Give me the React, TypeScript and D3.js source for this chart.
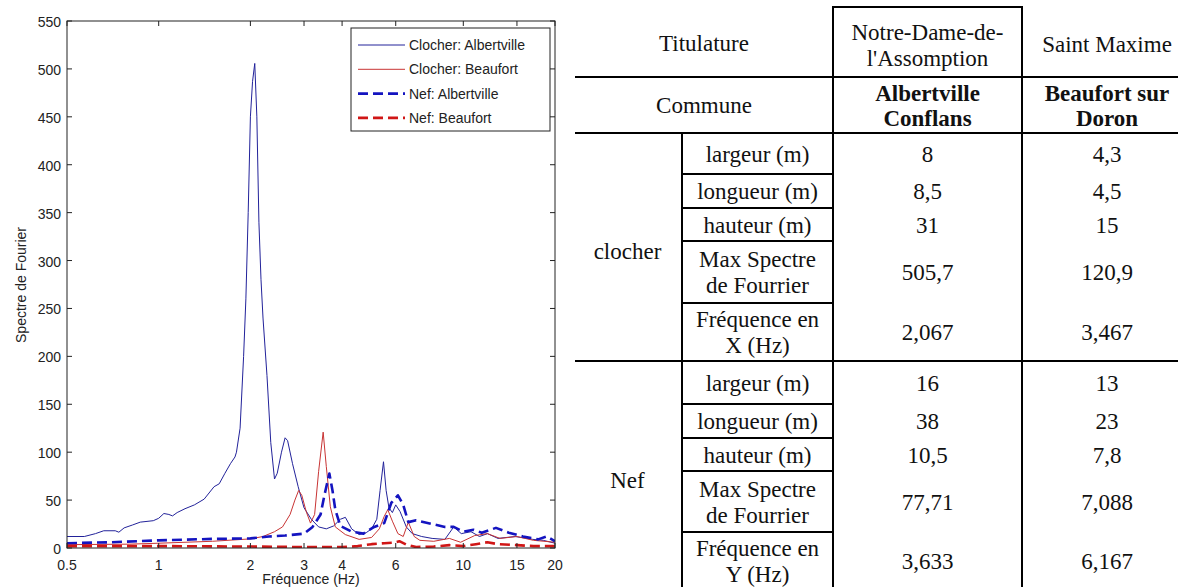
import React from "react";
import * as d3 from "d3";

// --- spectrum data (freq Hz, amplitude) ---
const clocherAlbertville: [number, number][] = [
  [0.5, 12], [0.57, 12], [0.62, 15], [0.66, 18], [0.72, 18], [0.74, 16.5], [0.77, 21],
  [0.82, 24], [0.87, 27], [0.96, 28.5], [1.0, 31], [1.04, 36], [1.08, 35], [1.11, 33.5],
  [1.15, 37], [1.22, 41], [1.31, 45], [1.41, 51], [1.52, 64], [1.58, 67], [1.65, 78],
  [1.72, 88], [1.78, 95], [1.8, 100], [1.85, 125], [1.9, 200], [1.933, 260], [1.967, 350],
  [2.0, 450], [2.033, 487], [2.067, 505.7], [2.1, 450], [2.133, 340], [2.167, 280],
  [2.2, 240], [2.267, 180], [2.333, 110], [2.4, 72], [2.45, 78], [2.53, 100], [2.6, 115],
  [2.65, 112], [2.75, 88], [2.87, 64], [3.0, 42], [3.17, 30], [3.35, 22], [3.55, 20],
  [3.75, 23], [3.95, 30], [4.1, 32], [4.3, 20], [4.55, 14], [4.8, 16], [5.0, 20],
  [5.2, 30], [5.33, 60], [5.47, 90], [5.58, 60], [5.7, 42], [5.85, 37], [6.0, 45],
  [6.2, 38], [6.5, 22], [6.8, 15], [7.3, 12], [7.9, 10], [8.7, 9], [9.3, 22], [9.85, 15],
  [10.6, 17], [11.3, 12], [12.0, 15], [13.0, 10], [14.8, 12], [16.9, 9], [18.3, 8], [20, 5],
];
const clocherBeaufort: [number, number][] = [
  [0.5, 3.5], [0.8, 4], [1.0, 5], [1.5, 7], [2.0, 9.5], [2.2, 12], [2.4, 17], [2.55, 22],
  [2.7, 35], [2.8, 50], [2.88, 60], [2.95, 55], [3.05, 38], [3.15, 26], [3.25, 35],
  [3.35, 80], [3.467, 120.9], [3.55, 85], [3.66, 43], [3.8, 22], [4.1, 14], [4.55, 9],
  [5.0, 11], [5.3, 20], [5.5, 33], [5.65, 40], [5.85, 28], [6.1, 15], [6.35, 12],
  [6.6, 27], [6.9, 12], [7.2, 8], [8.0, 7], [9.0, 10], [9.8, 6], [10.9, 13], [12.0, 15],
  [13.2, 10], [15, 12], [17, 8], [20, 6],
];
const nefAlbertville: [number, number][] = [
  [0.5, 5], [0.7, 6], [1.0, 8], [1.5, 9.5], [2.0, 10], [2.3, 12], [2.6, 13], [3.0, 15],
  [3.2, 22], [3.4, 35], [3.5, 55], [3.633, 77.7], [3.72, 60], [3.8, 40], [3.95, 23],
  [4.3, 17], [4.7, 15], [5.1, 22], [5.5, 26], [5.8, 47], [6.1, 55], [6.35, 45], [6.6, 27],
  [7.0, 29], [7.9, 25], [8.7, 22], [9.3, 22], [10.0, 17], [10.8, 19], [11.5, 16],
  [12.8, 21], [14.1, 16], [15.7, 12], [17.6, 9], [18.8, 12], [20, 7],
];
const nefBeaufort: [number, number][] = [
  [0.5, 2], [1, 2], [2, 1.5], [3, 1], [4, 1], [4.5, 2], [5.0, 4], [5.5, 5], [5.9, 5.5],
  [6.167, 7.1], [6.5, 3.5], [7.0, 1], [8.0, 1.5], [9.0, 3], [10.0, 2], [11.0, 4],
  [12.0, 6], [13.0, 4], [15, 3], [17, 2], [20, 2],
];
const seriesNames = ["Clocher: Albertville", "Clocher: Beaufort", "Nef: Albertville", "Nef: Beaufort"];
const xTicks = [0.5, 1, 2, 3, 4, 6, 10, 15, 20];
const yTicks = [0, 50, 100, 150, 200, 250, 300, 350, 400, 450, 500, 550];

// --- table data ---
const titulature = ["Notre-Dame-de-\nl'Assomption", "Saint Maxime"];
const communes = ["Albertville\nConflans", "Beaufort sur\nDoron"];
const groups = ["clocher", "Nef"];
const clocherLabels = ["largeur (m)", "longueur (m)", "hauteur (m)", "Max Spectre\nde Fourrier", "Fréquence en\nX (Hz)"];
const nefLabels = ["largeur (m)", "longueur (m)", "hauteur (m)", "Max Spectre\nde Fourrier", "Fréquence en\nY (Hz)"];
const clocherAlbertvilleVals = ["8", "8,5", "31", "505,7", "2,067"];
const clocherBeaufortVals = ["4,3", "4,5", "15", "120,9", "3,467"];
const nefAlbertvilleVals = ["16", "38", "10,5", "77,71", "3,633"];
const nefBeaufortVals = ["13", "23", "7,8", "7,088", "6,167"];

const sans = "'Liberation Sans', Arial, sans-serif";
const serif = "'Liberation Serif', 'Times New Roman', serif";

const styles = [
  { color: "#22229a", width: 1, dash: undefined },
  { color: "#c83434", width: 1, dash: undefined },
  { color: "#1414c0", width: 2.6, dash: "10,5" },
  { color: "#d01616", width: 2.6, dash: "10,5" },
];

const Lines = ({ text, x, y, lh, bold }: { text: string; x: number; y: number; lh: number; bold?: boolean }) => {
  const parts = text.split("\n");
  const y0 = y - ((parts.length - 1) * lh) / 2;
  return (
    <text x={x} textAnchor="middle" dominantBaseline="central" fontFamily={serif} fontSize={23}
      fontWeight={bold ? "bold" : "normal"} fill="#111">
      {parts.map((p, i) => (
        <tspan key={i} x={x} y={y0 + i * lh}>{p}</tspan>
      ))}
    </text>
  );
};

export default function App() {
  const x = d3.scaleLog().domain([0.5, 20]).range([67, 555]);
  const y = d3.scaleLinear().domain([0, 550]).range([548, 21]);
  const line = d3.line<[number, number]>().x(d => x(d[0])).y(d => y(d[1]));
  const series = [clocherAlbertville, clocherBeaufort, nefAlbertville, nefBeaufort];

  // table layout
  const tLeft = 575, tRight = 1178;
  const cGroup = 682, cA = 833, cB = 1022;
  const clocherRows = [133, 174, 208, 241, 303, 361];
  const nefRows = [361, 404, 438, 471, 532, 590];
  const colAx = (cA + cB) / 2, colBx = 1107, labX = (cGroup + cA) / 2;
  const lw = 2;

  const groupBlock = (rows: number[], labels: string[], va: string[], vb: string[], g: string) => (
    <g key={g}>
      <Lines text={g} x={(tLeft + cGroup) / 2 - 1} y={(rows[0] + rows[5]) / 2 + 4} lh={26} />
      {rows.slice(1, 5).map((r, i) => (
        <line key={i} x1={cGroup} x2={cA} y1={r} y2={r} stroke="#000" strokeWidth={lw} />
      ))}
      {labels.map((l, i) => {
        const cy = (rows[i] + rows[i + 1]) / 2;
        return (
          <g key={i}>
            <Lines text={l} x={labX} y={cy} lh={26} />
            <Lines text={va[i]} x={colAx} y={cy} lh={26} />
            <Lines text={vb[i]} x={colBx} y={cy} lh={26} />
          </g>
        );
      })}
    </g>
  );

  return (
    <svg width={1178} height={587} style={{ position: "absolute", left: 0, top: 0, background: "#fff" }}>
      <rect width={1178} height={587} fill="#fff" />
      {/* ---------- chart ---------- */}
      <defs>
        <clipPath id="plot"><rect x={67} y={21} width={488} height={527} /></clipPath>
      </defs>
      <g clipPath="url(#plot)">
        {series.map((s, i) => (
          <path key={i} d={line(s) || ""} fill="none" stroke={styles[i].color}
            strokeWidth={styles[i].width} strokeDasharray={styles[i].dash} strokeLinejoin="round" />
        ))}
      </g>
      <rect x={67} y={21} width={488} height={527} fill="none" stroke="#222" strokeWidth={1} />
      {xTicks.map(t => (
        <g key={t}>
          <line x1={x(t)} x2={x(t)} y1={548} y2={543} stroke="#222" />
          <line x1={x(t)} x2={x(t)} y1={21} y2={26} stroke="#222" />
          <text x={x(t)} y={570} textAnchor="middle" fontFamily={sans} fontSize={14} fill="#222">{t}</text>
        </g>
      ))}
      {yTicks.map(t => (
        <g key={t}>
          <line x1={67} x2={72} y1={y(t)} y2={y(t)} stroke="#222" />
          <line x1={555} x2={550} y1={y(t)} y2={y(t)} stroke="#222" />
          <text x={61} y={y(t) + 1} textAnchor="end" dominantBaseline="central" fontFamily={sans} fontSize={14} fill="#222">{t}</text>
        </g>
      ))}
      <text transform="translate(21,285) rotate(-90)" textAnchor="middle" dominantBaseline="central"
        fontFamily={sans} fontSize={14} fill="#222">Spectre de Fourier</text>
      <text x={311} y={584} textAnchor="middle" fontFamily={sans} fontSize={14} fill="#222">Fréquence (Hz)</text>
      {/* legend */}
      <rect x={351} y={28} width={199} height={103} fill="#fff" stroke="#222" strokeWidth={1} />
      {seriesNames.map((n, i) => {
        const ly = 45 + i * 24.3;
        return (
          <g key={n}>
            <line x1={358} x2={405} y1={ly} y2={ly} stroke={styles[i].color} strokeWidth={styles[i].width}
              strokeDasharray={styles[i].dash} />
            <text x={409} y={ly} dominantBaseline="central" fontFamily={sans} fontSize={14} fill="#222">{n}</text>
          </g>
        );
      })}

      {/* ---------- table ---------- */}
      <line x1={cA} x2={cB} y1={7} y2={7} stroke="#000" strokeWidth={lw} />
      <line x1={tLeft} x2={tRight} y1={77} y2={77} stroke="#000" strokeWidth={lw} />
      <line x1={tLeft} x2={tRight} y1={133} y2={133} stroke="#000" strokeWidth={lw} />
      <line x1={tLeft} x2={tRight} y1={361} y2={361} stroke="#000" strokeWidth={lw} />
      <line x1={cA} x2={cA} y1={6} y2={590} stroke="#000" strokeWidth={lw} />
      <line x1={cB} x2={cB} y1={6} y2={590} stroke="#000" strokeWidth={lw} />
      <line x1={cGroup} x2={cGroup} y1={133} y2={590} stroke="#000" strokeWidth={lw} />
      <Lines text="Titulature" x={(tLeft + cA) / 2} y={43} lh={26} />
      <Lines text="Commune" x={(tLeft + cA) / 2} y={105} lh={26} />
      <Lines text={titulature[0]} x={colAx} y={45} lh={26} />
      <Lines text={titulature[1]} x={colBx} y={44} lh={26} />
      <Lines text={communes[0]} x={colAx} y={105} lh={25} bold />
      <Lines text={communes[1]} x={colBx} y={105} lh={25} bold />
      {groupBlock(clocherRows, clocherLabels, clocherAlbertvilleVals, clocherBeaufortVals, groups[0])}
      {groupBlock(nefRows, nefLabels, nefAlbertvilleVals, nefBeaufortVals, groups[1])}
    </svg>
  );
}
